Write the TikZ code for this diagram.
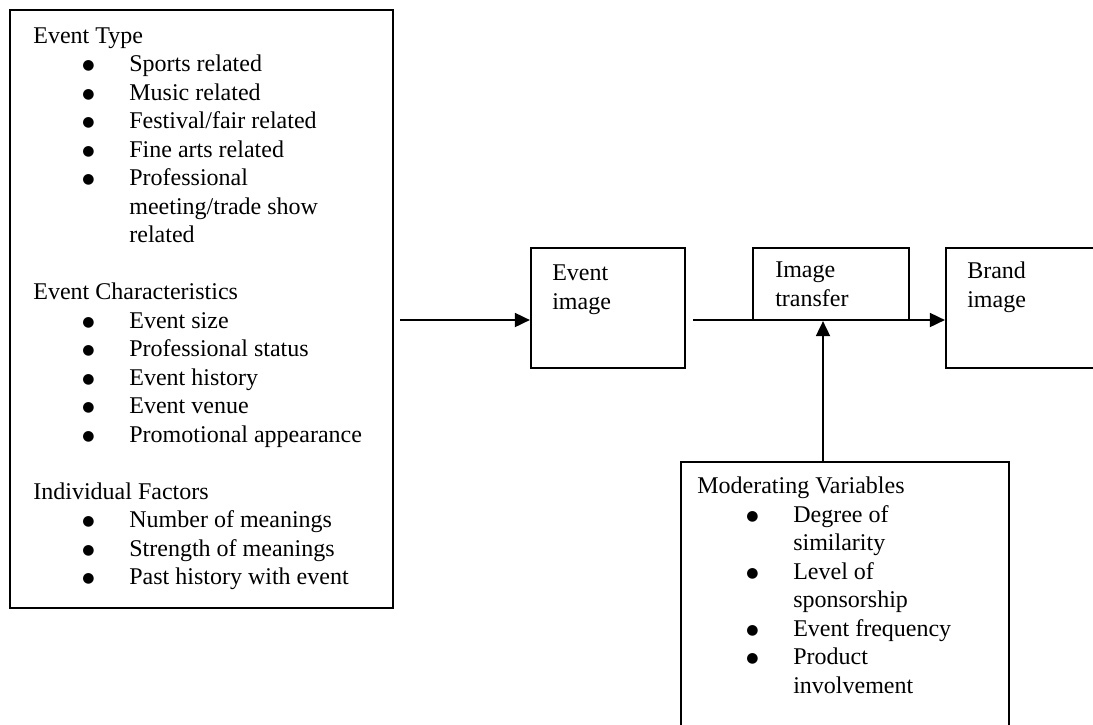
\documentclass[tikz,border=0pt]{standalone}
\usepackage{fontspec}
\setmainfont{Liberation Serif}
\newfontfamily\symfont{DejaVu Sans}
\usetikzlibrary{arrows.meta}
\newcommand{\bul}{\makebox[48pt][l]{\hspace{24.5pt}\raisebox{1pt}{\fontsize{7}{7}\symfont ●}}}
\newcommand{\ind}{\hspace*{48pt}}
\newcommand{\rows}[1]{\begin{tabular}[t]{@{}l@{}}#1\end{tabular}}

\begin{document}
\begin{tikzpicture}[x=0.5pt,y=-0.5pt,
    font=\fontsize{12}{14.25}\selectfont,
    >={Triangle[length=7.5pt,width=7pt]},
    box/.style={draw,line width=1.1pt,inner sep=0pt},
    txt/.style={anchor=base west,inner sep=0pt},
    arr/.style={->,line width=0.9pt}]
    \useasboundingbox(0,0)rectangle(1093,724);
    % boxes
    \node[box,minimum width=191.5pt,minimum height=299pt](factors)at(201.5,309){};
    \node[box,minimum width=77pt,minimum height=60pt](evimg)at(608,308){};
    \node[box,minimum width=78pt,minimum height=36pt](imgtr)at(831,284){};
    \node[box,minimum width=77pt,minimum height=60pt](brand)at(1023,308){};
    \node[box,minimum width=164pt,minimum height=139pt](modvar)at(845,601){};
    % texts
    \node[txt](factorstxt)at(33,43){\rows{
        Event Type\\
        \bul Sports related\\
        \bul Music related\\
        \bul Festival/fair related\\
        \bul Fine arts related\\
        \bul Professional\\
        \ind meeting/trade show\\
        \ind related\\
        \\
        Event Characteristics\\
        \bul Event size\\
        \bul Professional status\\
        \bul Event history\\
        \bul Event venue\\
        \bul Promotional appearance\\
        \\
        Individual Factors\\
        \bul Number of meanings\\
        \bul Strength of meanings\\
        \bul Past history with event}};
    \node[txt](evimgtxt)at([shift={(22,34)}]evimg.north west){\rows{Event\\image}};
    \node[txt](imgtrtxt)at([shift={(23,31)}]imgtr.north west){\rows{Image\\transfer}};
    \node[txt](brandtxt)at([shift={(22,32)}]brand.north west){\rows{Brand\\image}};
    \node[txt](modvartxt)at([shift={(17,33)}]modvar.north west){\rows{
        Moderating Variables\\
        \bul Degree of\\
        \ind similarity\\
        \bul Level of\\
        \ind sponsorship\\
        \bul Event frequency\\
        \bul Product\\
        \ind involvement}};
    % arrows
    \coordinate(a1)at(400,320);
    \coordinate(a2)at(693,320);
    \coordinate(a3)at(823,462);
    \draw[arr](a1)--(a1-|evimg.west);
    \draw[arr](a2)--(a2-|brand.west);
    \draw[arr](a3)--(a3|-imgtr.south);
\end{tikzpicture}
\end{document}
